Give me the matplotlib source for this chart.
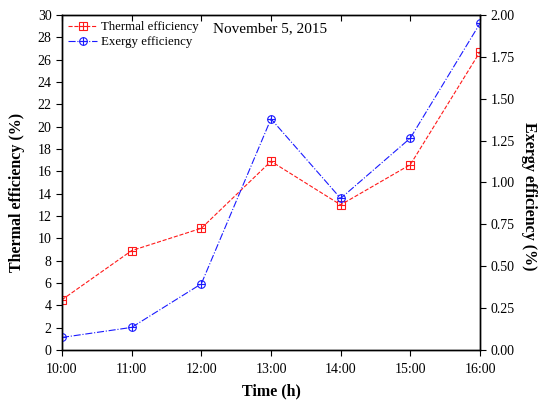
import numpy as np
import matplotlib.pyplot as plt

plt.rcParams['font.family'] = ['Liberation Serif', 'DejaVu Serif']

hours = [10, 11, 12, 13, 14, 15, 16]
hour_labels = ['10:00', '11:00', '12:00', '13:00', '14:00', '15:00', '16:00']
thermal = [4.5, 8.9, 10.9, 16.9, 13.0, 16.6, 26.7]
exergy = [0.075, 0.135, 0.395, 1.38, 0.905, 1.265, 1.95]

fig = plt.figure(figsize=(5.38, 4.03), dpi=100)
ax = fig.add_axes([0.1152, 0.1315, 0.777, 0.8313])
ax2 = ax.twinx()

red = '#ff1a1a'
blue = '#1a1aff'

l1, = ax.plot(hours, thermal, '--', color=red, lw=0.8, marker='s', ms=5.5,
              mfc='none', mec=red, mew=0.8)
p1, = ax.plot(hours, thermal, ls='none', marker='+', ms=5.5, color=red, mew=0.8)
l2, = ax2.plot(hours, exergy, '-.', color=blue, lw=0.8, marker='o', ms=5.5,
               mfc='none', mec=blue, mew=0.8)
p2, = ax2.plot(hours, exergy, ls='none', marker='+', ms=5.5, color=blue, mew=0.8)

ax.set_xlim(10, 16)
ax.set_ylim(0, 30)
ax2.set_ylim(0, 2.0)
ax.set_xticks(hours)
ax.set_xticklabels(hour_labels)
ax.set_yticks(np.arange(0, 31, 2))
ax2.set_yticks(np.arange(0, 2.01, 0.25))
ax2.set_yticklabels(['%.2f' % v for v in np.arange(0, 2.01, 0.25)])

ax.tick_params(axis='both', labelsize=10, direction='out', length=4, width=0.8)
ax.tick_params(axis='x', top=True, pad=5)
ax2.tick_params(axis='y', labelsize=10, direction='out', length=4, width=0.8)
for t in ax.xaxis.get_major_ticks():
    t.tick2line.set_marker(3)
for s in ['top', 'bottom', 'left', 'right']:
    ax.spines[s].set_linewidth(1.0)
    ax2.spines[s].set_linewidth(1.0)

ax.set_xlabel('Time (h)', fontsize=11.5, fontweight='bold')
ax.set_ylabel('Thermal efficiency (%)', fontsize=11.5, fontweight='bold')
ax2.set_ylabel('Exergy efficiency (%)', fontsize=11.5, fontweight='bold',
               rotation=270)
ax.xaxis.set_label_coords(0.5, -0.1)
ax.yaxis.set_label_coords(-0.0885, 0.47)
ax2.yaxis.set_label_coords(1.136, 0.458)

ax.text(12.17, 28.75, 'November 5, 2015', fontsize=11, va='center', ha='left')

ax.legend([(l1, p1), (l2, p2)], ['Thermal efficiency', 'Exergy efficiency'],
          loc='upper left', frameon=False, fontsize=9.3, handlelength=2.2,
          borderaxespad=0.1, labelspacing=0.2, handletextpad=0.3,
          bbox_to_anchor=(0.0, 1.0))

fig.savefig('out.png', dpi=100)
